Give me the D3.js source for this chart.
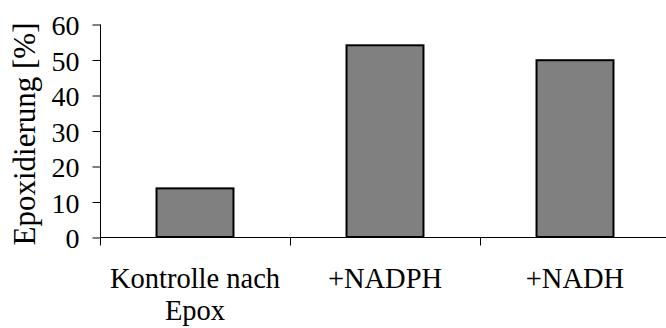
<!DOCTYPE html>
<html>
<head>
<meta charset="utf-8">
<script src="https://cdn.jsdelivr.net/npm/d3@7"></script>
<style>
  body { margin: 0; background: #fff; }
  svg text { font-family: "Liberation Serif", "Times New Roman", serif; fill: #000; }
</style>
</head>
<body>
<div id="chart"></div>
<script>
//Chart Data
let categories = [["Kontrolle nach", "Epox"], ["+NADPH"], ["+NADH"]];
let values = [13.7, 54.0, 49.8];
let yTicks = [0, 10, 20, 30, 40, 50, 60];
let yLabel = "Epoxidierung [%]";

//SVG Size
let svgWidth = 666;
let svgHeight = 328;

//Plot Area
let margin = { top: 24, left: 100, right: -4, bottom: 91 };
let width = svgWidth - margin.left - margin.right;
let height = svgHeight - margin.top - margin.bottom;

let svg = d3.select("#chart")
  .append("svg")
  .attr("width", svgWidth)
  .attr("height", svgHeight);

let chartGroup = svg.append("g")
  .attr("transform", `translate(${margin.left}, ${margin.top})`);

//Scales
let xScale = d3.scaleBand()
  .domain(d3.range(categories.length))
  .range([0, width])
  .paddingInner(0.595)
  .paddingOuter(0.2975);

let yScale = d3.scaleLinear()
  .domain([0, 60])
  .range([height, 0]);

//Bars
chartGroup.selectAll("rect.bar")
  .data(values)
  .enter()
  .append("rect")
  .attr("class", "bar")
  .attr("x", (d, i) => xScale(i))
  .attr("y", d => yScale(d))
  .attr("width", xScale.bandwidth())
  .attr("height", d => height - yScale(d))
  .attr("fill", "#808080")
  .attr("stroke", "#000")
  .attr("stroke-width", 2);

//Y Axis
let leftAxis = d3.axisLeft(yScale)
  .tickValues(yTicks)
  .tickSize(8)
  .tickPadding(13);

let yAxis = chartGroup.append("g")
  .attr("transform", "translate(0.5, 0)")
  .call(leftAxis);
yAxis.select(".domain").attr("d", `M0,0.5V${height + 0.5}`);
yAxis.selectAll(".tick line").attr("transform", "translate(0, 0.5)");
yAxis.selectAll("text")
  .style("font-size", "28px")
  .attr("dy", "0.38em");

//X Axis with ticks on band boundaries
let bottomAxis = d3.axisBottom(xScale)
  .tickSize(0)
  .tickFormat("");

let xAxis = chartGroup.append("g")
  .attr("transform", `translate(0, ${height + 0.5})`)
  .call(bottomAxis);
xAxis.select(".domain").attr("d", `M0,0H${width}`);

let boundaries = d3.range(categories.length + 1).map(i => i * xScale.step());
xAxis.selectAll("line.bound")
  .data(boundaries)
  .enter()
  .append("line")
  .attr("class", "bound")
  .attr("x1", d => Math.round(d) + 0.5)
  .attr("x2", d => Math.round(d) + 0.5)
  .attr("y1", 0)
  .attr("y2", 8)
  .attr("stroke", "#000");

//Category Labels
let labels = chartGroup.selectAll("text.cat")
  .data(categories)
  .enter()
  .append("text")
  .attr("class", "cat")
  .attr("text-anchor", "middle")
  .attr("transform", (d, i) => `translate(${xScale(i) + xScale.bandwidth() / 2}, ${height + 51})`)
  .style("font-size", "28.5px");

labels.selectAll("tspan")
  .data(d => d)
  .enter()
  .append("tspan")
  .attr("x", 0)
  .attr("y", (d, i) => i * 32)
  .text(d => d);

//Y Axis Title
svg.append("text")
  .attr("transform", "translate(35, 134) rotate(-90)")
  .attr("text-anchor", "middle")
  .style("font-size", "31px")
  .text(yLabel);
</script>
</body>
</html>
